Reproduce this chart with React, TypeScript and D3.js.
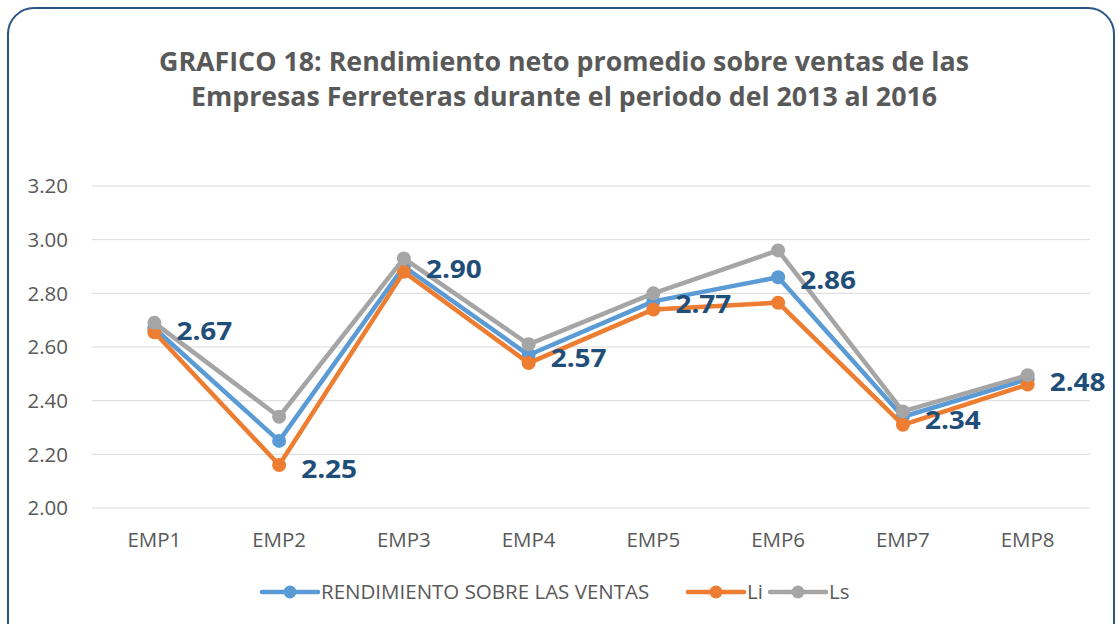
import React from 'react';
import * as d3 from 'd3';

// data
const categories = ['EMP1', 'EMP2', 'EMP3', 'EMP4', 'EMP5', 'EMP6', 'EMP7', 'EMP8'];
const rendimiento = [2.67, 2.25, 2.90, 2.57, 2.77, 2.86, 2.34, 2.48];
const li = [2.655, 2.16, 2.88, 2.54, 2.74, 2.765, 2.31, 2.46];
const ls = [2.69, 2.34, 2.93, 2.61, 2.80, 2.96, 2.36, 2.495];
const yTicks = [2.0, 2.2, 2.4, 2.6, 2.8, 3.0, 3.2];

const seriesList = [
    { name: 'RENDIMIENTO SOBRE LAS VENTAS', values: rendimiento, color: '#5b9bd5' },
    { name: 'Li', values: li, color: '#ed7d31' },
    { name: 'Ls', values: ls, color: '#a5a5a5' },
];

const W = 1117;
const H = 624;
const FONT = '"Open Sans", "DejaVu Sans", sans-serif';

export default function App() {
    const x = d3.scaleBand().domain(categories).range([92, 1090]);
    const y = d3.scaleLinear().domain([2.0, 3.2]).range([508, 186]);
    const cx = (c: string) => (x(c) as number) + x.bandwidth() / 2;
    const line = d3.line<number>()
        .x((_, i) => cx(categories[i]))
        .y((d) => y(d));

    // legend layout
    const legendItems = [
        { ...seriesList[0], x: 262 },
        { ...seriesList[1], x: 688 },
        { ...seriesList[2], x: 770 },
    ];

    return (
        <svg width={W} height={H} style={{ position: 'absolute', left: 0, top: 0, fontFamily: FONT }}>
            <rect x={0} y={0} width={W} height={H} fill="#fff" />
            {/* frame */}
            <rect x={8} y={8} width={1106} height={660} rx={26} ry={26}
                fill="none" stroke="#2a5584" strokeWidth={2} />

            {/* title */}
            <text x={564} y={71} textAnchor="middle" fontSize={27} fontWeight="bold" fill="#595959"
                textLength={810} lengthAdjust="spacingAndGlyphs">
                GRAFICO 18: Rendimiento neto promedio sobre ventas de las
            </text>
            <text x={564} y={106} textAnchor="middle" fontSize={27} fontWeight="bold" fill="#595959"
                textLength={746} lengthAdjust="spacingAndGlyphs">
                Empresas Ferreteras durante el periodo del 2013 al 2016
            </text>

            {/* grid + y ticks */}
            {yTicks.map((t) => (
                <g key={t}>
                    <line x1={92} x2={1090} y1={y(t)} y2={y(t)} stroke="#d9d9d9" strokeWidth={1} />
                    <text x={68} y={y(t)} dy="0.35em" textAnchor="end" fontSize={20.5} fill="#595959">
                        {t.toFixed(2)}
                    </text>
                </g>
            ))}

            {/* x labels */}
            {categories.map((c) => (
                <text key={c} x={cx(c)} y={540} dy="0.35em" textAnchor="middle" fontSize={20.5} fill="#595959">
                    {c}
                </text>
            ))}

            {/* series */}
            {seriesList.map((s) => (
                <g key={s.name}>
                    <path d={line(s.values) || ''} fill="none" stroke={s.color} strokeWidth={4.5}
                        strokeLinejoin="round" />
                    {s.values.map((v, i) => (
                        <circle key={i} cx={cx(categories[i])} cy={y(v)} r={7} fill={s.color} />
                    ))}
                </g>
            ))}

            {/* data labels */}
            {rendimiento.map((v, i) => (
                <text key={i} x={cx(categories[i]) + 22} y={y(v) + (i === 1 ? 28 : 3)} dy="0.35em"
                    fontSize={25} fontWeight="bold" fill="#1f4e79" textLength={56} lengthAdjust="spacingAndGlyphs">
                    {v.toFixed(2)}
                </text>
            ))}

            {/* legend */}
            {legendItems.map((s) => (
                <g key={s.name}>
                    <line x1={s.x} x2={s.x + 56} y1={592} y2={592} stroke={s.color} strokeWidth={4.5}
                        strokeLinecap="round" />
                    <circle cx={s.x + 28} cy={592} r={6.5} fill={s.color} />
                    <text x={s.x + 59} y={592} dy="0.35em" fontSize={20.5} fill="#595959">{s.name}</text>
                </g>
            ))}
        </svg>
    );
}
